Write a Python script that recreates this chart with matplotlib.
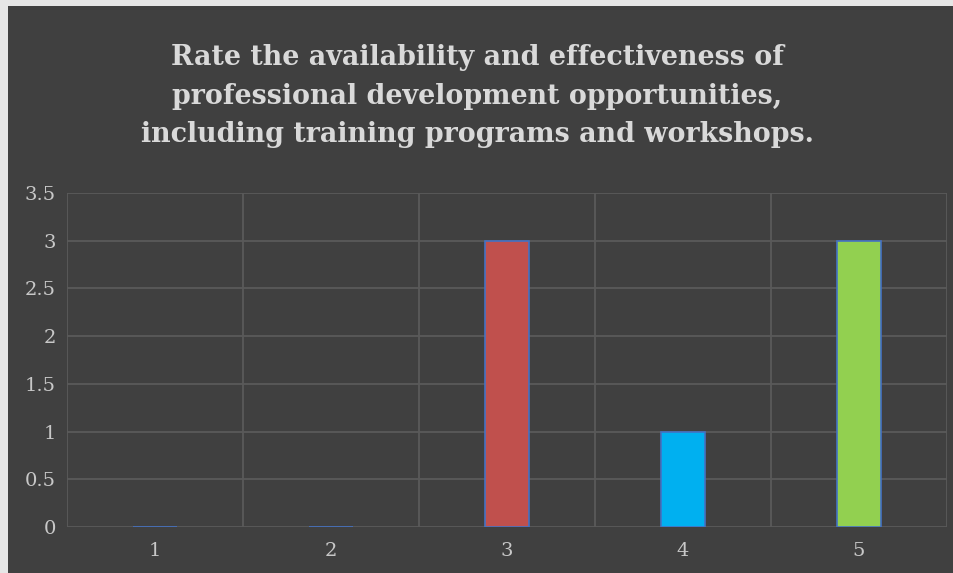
import matplotlib.pyplot as plt
from matplotlib.patches import Rectangle

categories = ["1", "2", "3", "4", "5"]
counts = [0, 0, 3, 1, 3]
bar_colors = ["#4472c4", "#4472c4", "#c0504d", "#00b0f0", "#92d050"]
y_ticks = [0, 0.5, 1, 1.5, 2, 2.5, 3, 3.5]
y_labels = ["0", "0.5", "1", "1.5", "2", "2.5", "3", "3.5"]
title = ("Rate the availability and effectiveness of\n"
         "professional development opportunities,\n"
         "including training programs and workshops.")

bg = "#404040"
grid_col = "#5a5a5a"
title_col = "#d9d9d9"
tick_col = "#c8c8c8"
serif = ["DejaVu Serif"]

fig = plt.figure(figsize=(9.54, 5.73), dpi=100, facecolor="#e6e6e6")
# dark chart area, leaving a thin light strip on the top and left
fig.patches.append(Rectangle((8 / 954, 0), 1 - 8 / 954, 1 - 6 / 573,
                             transform=fig.transFigure, facecolor=bg,
                             edgecolor="none", zorder=-1))

ax = fig.add_axes([67 / 954, 46 / 573, 880 / 954, 334 / 573])
ax.set_facecolor(bg)

x = list(range(len(categories)))
ax.bar(x, counts, width=0.245, color=bar_colors, edgecolor="#4472c4",
       linewidth=1.2, zorder=3)

ax.set_xlim(-0.5, len(categories) - 0.5)
ax.set_ylim(0, 3.5)
ax.set_yticks(y_ticks)
ax.set_yticklabels(y_labels)
ax.set_xticks(x)
ax.set_xticklabels(categories)

# horizontal grid plus vertical lines between categories
for y in y_ticks:
    ax.axhline(y, color=grid_col, linewidth=1.3, zorder=1)
for b in [i - 0.5 for i in range(len(categories) + 1)]:
    ax.axvline(b, color=grid_col, linewidth=1.3, zorder=1)

for s in ax.spines.values():
    s.set_visible(False)
ax.tick_params(length=0, labelsize=14)
ax.tick_params(axis="y", pad=8)
ax.tick_params(axis="x", pad=11)
for lab in ax.get_xticklabels() + ax.get_yticklabels():
    lab.set_family(serif)
    lab.set_color(tick_col)

fig.text(0.5, 1 - 96 / 573, title, ha="center", va="center",
         fontsize=19.4, fontweight="bold", color=title_col, family=serif,
         linespacing=1.55)

fig.savefig("out.png", dpi=100, facecolor=fig.get_facecolor())
